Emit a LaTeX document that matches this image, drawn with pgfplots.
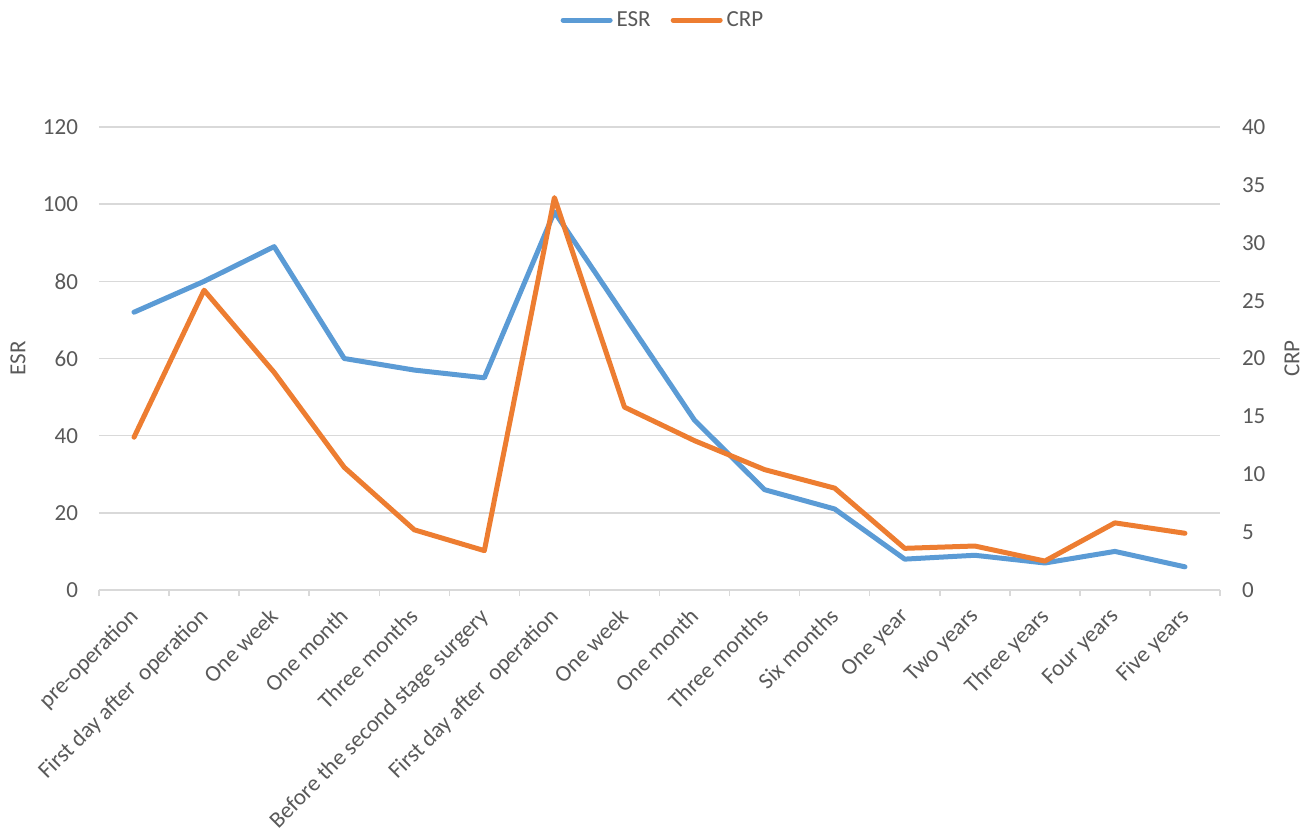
\documentclass[border=0pt]{standalone}
\usepackage{fontspec}
\setmainfont{Carlito}
\usepackage{pgfplots}
\pgfplotsset{compat=1.18}
\definecolor{esr}{HTML}{5B9BD5}
\definecolor{crp}{HTML}{ED7D31}
\definecolor{txt}{HTML}{595959}
\definecolor{grd}{HTML}{D9D9D9}

\begin{document}
\begin{tikzpicture}
\useasboundingbox (-49.5pt,-125pt) rectangle (606.5pt,295pt);
\pgfplotsset{
  every axis/.append style={
    scale only axis, width=560.5pt, height=231.5pt,
    xmin=-0.5, xmax=15.5,
    font=\fontsize{11.5}{13}\selectfont,
    /pgf/number format/assume math mode=true,
    tick label style={text=txt},
    every axis label/.append style={text=txt},
    major tick length=0pt,
    ytick style={draw=none},
  },
}
\begin{axis}[
  ymin=0, ymax=120, ytick={0,20,...,120},
  axis lines*=left,
  y axis line style={draw=none},
  x axis line style={draw=grd, line width=0.75pt},
  ymajorgrids, major grid style={draw=grd, line width=0.75pt},
  xtick={0,...,15},
  xticklabels={pre-operation, First day after\ \ operation, One week, One month, Three months, Before the second stage surgery, First day after\ \ operation, One week, One month, Three months, Six months, One year, Two years, Three years, Four years, Five years},
  xticklabel style={rotate=45, anchor=north east, inner sep=1pt, yshift=-2.5pt, xshift=-6.9pt},
  minor xtick={-0.5,0.5,...,15.5},
  minor tick length=3pt, tick align=outside,
  xtick style={draw=grd, line width=0.75pt},
  yticklabel style={xshift=-7pt},
  ylabel={ESR},
  ylabel style={at={(axis description cs:-0.0723,0.5)}, anchor=center},
]
\addplot[esr, line width=2.5pt, line cap=round, line join=round] coordinates {
(0,72) (1,80) (2,89) (3,60) (4,57) (5,55) (6,98) (7,71) (8,44) (9,26) (10,21) (11,8) (12,9) (13,7) (14,10) (15,6)
};
\end{axis}
\begin{axis}[
  ymin=0, ymax=40, ytick={0,5,...,40},
  axis y line*=right, axis x line=none,
  y axis line style={draw=none},
  yticklabel style={xshift=7.5pt},
  ylabel={CRP},
  ylabel style={at={(axis description cs:1.0642,0.5)}, anchor=center},
  legend style={at={(axis description cs:0.504,1.231)}, anchor=center, draw=none, fill=none, text=txt,
    legend columns=2, /tikz/every even column/.append style={column sep=8pt},
    inner sep=0pt},
  legend image code/.code={\draw[#1, line cap=round] (0pt,0pt) -- (23.5pt,0pt);},
]
\addlegendimage{esr, line width=2.5pt}
\addlegendentry{ESR}
\addplot[crp, line width=2.5pt, line cap=round, line join=round] coordinates {
(0,13.2) (1,25.9) (2,18.8) (3,10.6) (4,5.2) (5,3.4) (6,33.9) (7,15.8) (8,12.9) (9,10.4) (10,8.8) (11,3.6) (12,3.8) (13,2.5) (14,5.8) (15,4.9)
};
\addlegendentry{CRP}
\end{axis}
\end{tikzpicture}
\end{document}
